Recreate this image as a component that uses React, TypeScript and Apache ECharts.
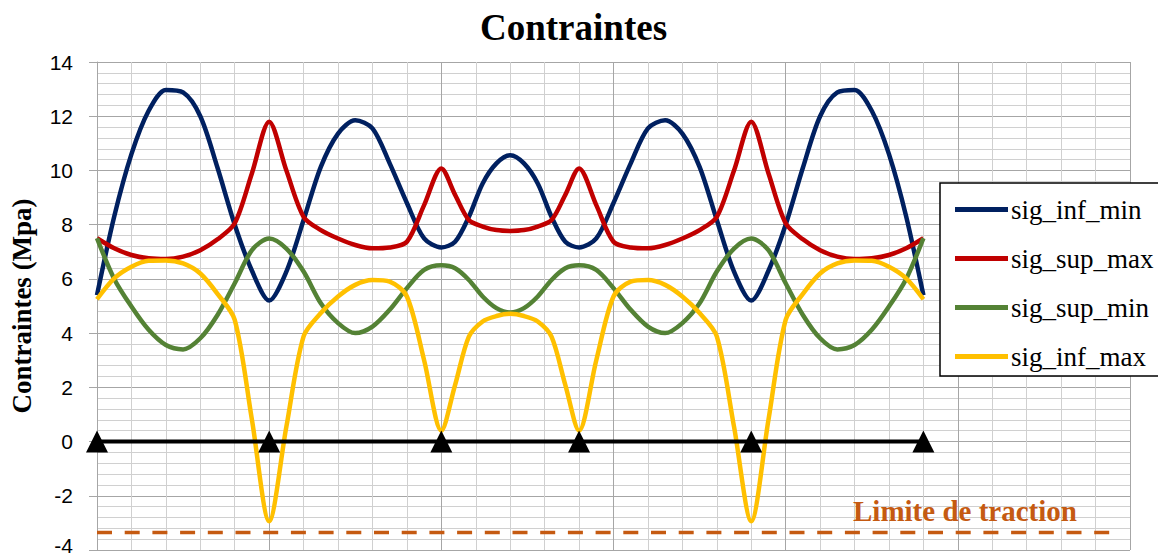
import React, { useEffect, useRef } from "react";
import * as echarts from "echarts";

// Abscissa along the bridge (m)
const X = [
  0, 2.5, 5, 7.5, 10, 12.5, 15, 17.5, 20, 22.5, 25,
  27.5, 30, 32.5, 35, 37.5, 40, 42.5, 45, 47.5, 50,
  52, 54, 56, 58, 60, 62, 64, 66, 68, 70,
  72.5, 75, 77.5, 80, 82.5, 85, 87.5, 90, 92.5, 95,
  97.5, 100, 102.5, 105, 107.5, 110, 112.5, 115, 117.5, 120,
];

const SIG_INF_MIN = [
  5.4, 8.3, 10.6, 12.2, 12.97, 12.88, 12.0, 10.1, 8.0, 6.3, 5.2,
  6.27, 8.17, 10.13, 11.36, 11.85, 11.55, 10.26, 8.8, 7.49, 7.16,
  7.37, 8.29, 9.52, 10.26, 10.56, 10.26, 9.52, 8.29, 7.37, 7.16,
  7.49, 8.8, 10.26, 11.55, 11.85, 11.36, 10.13, 8.17, 6.27, 5.2,
  6.3, 8.0, 10.1, 12.0, 12.88, 12.97, 12.2, 10.6, 8.3, 5.4,
];

const SIG_SUP_MAX = [
  7.5, 7.13, 6.88, 6.76, 6.73, 6.82, 7.06, 7.46, 8.05, 9.9, 11.8,
  10.0, 8.29, 7.8, 7.49, 7.25, 7.13, 7.16, 7.37, 8.72, 10.07,
  9.1, 8.17, 7.93, 7.8, 7.77, 7.8, 7.93, 8.17, 9.1, 10.07,
  8.72, 7.37, 7.16, 7.13, 7.25, 7.49, 7.8, 8.29, 10.0, 11.8,
  9.9, 8.05, 7.46, 7.06, 6.82, 6.73, 6.76, 6.88, 7.13, 7.5,
];

const SIG_SUP_MIN = [
  7.5, 6.0, 4.98, 4.12, 3.56, 3.4, 3.81, 4.67, 5.84, 7.06, 7.49,
  7.12, 6.27, 5.1, 4.37, 4.0, 4.24, 4.86, 5.66, 6.33, 6.5,
  6.39, 5.96, 5.35, 4.92, 4.76, 4.92, 5.35, 5.96, 6.39, 6.5,
  6.33, 5.66, 4.86, 4.24, 4.0, 4.37, 5.1, 6.27, 7.12, 7.49,
  7.06, 5.84, 4.67, 3.81, 3.4, 3.56, 4.12, 4.98, 6.0, 7.5,
];

const SIG_INF_MAX = [
  5.25, 6.02, 6.45, 6.67, 6.68, 6.57, 6.2, 5.45, 4.49, 0.8, -2.94,
  0.55, 3.88, 4.74, 5.35, 5.78, 5.96, 5.9, 5.35, 3.0, 0.4,
  2.09, 3.87, 4.43, 4.63, 4.71, 4.63, 4.43, 3.87, 2.09, 0.4,
  3.0, 5.35, 5.9, 5.96, 5.78, 5.35, 4.74, 3.88, 0.55, -2.94,
  0.8, 4.49, 5.45, 6.2, 6.57, 6.68, 6.67, 6.45, 6.02, 5.25,
];

const SUPPORT_X = [0, 25, 50, 70, 95, 120];
const SUPPORT_Y = [0, 0, 0, 0, 0, 0];

const LIMIT_X = [0, 148];
const LIMIT_Y = [-3.35, -3.35];

const SERIES_NAMES = ["sig_inf_min", "sig_sup_max", "sig_sup_min", "sig_inf_max"];
const SERIES_COLORS = ["#002060", "#c00000", "#548235", "#ffc000"];
const SERIES_VALUES = [SIG_INF_MIN, SIG_SUP_MAX, SIG_SUP_MIN, SIG_INF_MAX];

const SERIF = "'Liberation Serif', 'Times New Roman', serif";
const SANS = "'Liberation Sans', Arial, sans-serif";

export default function App() {
  const ref = useRef<HTMLDivElement>(null);

  useEffect(() => {
    if (!ref.current) return;
    const chart = echarts.init(ref.current, undefined, { renderer: "svg" });

    const curveSeries = SERIES_NAMES.map((name, k) => ({
      name,
      type: "line",
      data: X.map((x, i) => [x, SERIES_VALUES[k][i]]),
      smooth: 0.3,
      symbol: "none",
      lineStyle: { color: SERIES_COLORS[k], width: 4.5 },
      itemStyle: { color: SERIES_COLORS[k] },
      z: 3 + k,
    }));

    chart.setOption({
      animation: false,
      backgroundColor: "#fff",
      textStyle: { fontFamily: SERIF },
      title: {
        text: "Contraintes",
        left: 475,
        top: 4,
        textStyle: {
          fontFamily: SERIF,
          fontWeight: "bold",
          fontSize: 37,
          color: "#000",
        },
      },
      grid: { left: 96, top: 62, right: 28, bottom: 9, containLabel: false },
      xAxis: {
        type: "value",
        min: 0,
        max: 150,
        interval: 25,
        axisLine: { show: false },
        axisTick: { show: false },
        axisLabel: { show: false },
        splitLine: { show: true, lineStyle: { color: "#a6a6a6", width: 1 } },
        minorTick: { show: false, splitNumber: 5 },
        minorSplitLine: { show: true, lineStyle: { color: "#d0d0d0", width: 1 } },
      },
      yAxis: {
        type: "value",
        min: -4,
        max: 14,
        interval: 2,
        name: "Contraintes (Mpa)",
        nameLocation: "middle",
        nameRotate: 90,
        nameGap: 62,
        nameTextStyle: {
          fontFamily: SERIF,
          fontWeight: "bold",
          fontSize: 27,
          color: "#000",
        },
        axisLine: { show: true, lineStyle: { color: "#a6a6a6", width: 1 } },
        axisTick: { show: true, length: 8, lineStyle: { color: "#a6a6a6" } },
        axisLabel: {
          margin: 24,
          fontFamily: SANS,
          fontSize: 21,
          color: "#000",
          formatter: (v: number) => (v === -4 ? "{low|-4}" : String(v)),
          rich: {
            low: {
              fontFamily: SANS,
              fontSize: 21,
              color: "#000",
              padding: [0, 0, 9, 0],
            },
          },
        },
        splitLine: { show: true, lineStyle: { color: "#a6a6a6", width: 1 } },
        minorTick: { show: false, splitNumber: 5 },
        minorSplitLine: { show: true, lineStyle: { color: "#d0d0d0", width: 1 } },
      },
      legend: {
        data: SERIES_NAMES,
        orient: "vertical",
        left: 940,
        top: 183,
        padding: [13, 8, 6, 15],
        itemGap: 22,
        itemWidth: 53,
        itemHeight: 5,
        icon: "rect",
        backgroundColor: "#fff",
        borderColor: "#000",
        borderWidth: 1.5,
        borderRadius: 0,
        textStyle: {
          fontFamily: SERIF,
          fontSize: 27,
          color: "#000",
          padding: [0, 0, 0, -2],
        },
      },
      graphic: [
        {
          type: "text",
          left: 853,
          top: 496,
          style: {
            text: "Limite de traction",
            fontFamily: SERIF,
            fontWeight: "bold",
            fontSize: 29,
            fill: "#c55a11",
          },
          z: 20,
        },
      ],
      series: [
        ...curveSeries,
        {
          name: "appuis",
          type: "line",
          data: SUPPORT_X.map((x, i) => [x, SUPPORT_Y[i]]),
          symbol: "triangle",
          symbolSize: 22,
          showSymbol: true,
          lineStyle: { color: "#000", width: 4 },
          itemStyle: { color: "#000" },
          z: 8,
        },
        {
          name: "limite",
          type: "line",
          data: LIMIT_X.map((x, i) => [x, LIMIT_Y[i]]),
          symbol: "none",
          lineStyle: { color: "#c55a11", width: 3.5, type: [15, 12.7] },
          z: 2,
        },
      ],
    });

    return () => chart.dispose();
  }, []);

  return (
    <div
      ref={ref}
      style={{ position: "absolute", left: 0, top: 0, width: 1158, height: 559 }}
    />
  );
}
